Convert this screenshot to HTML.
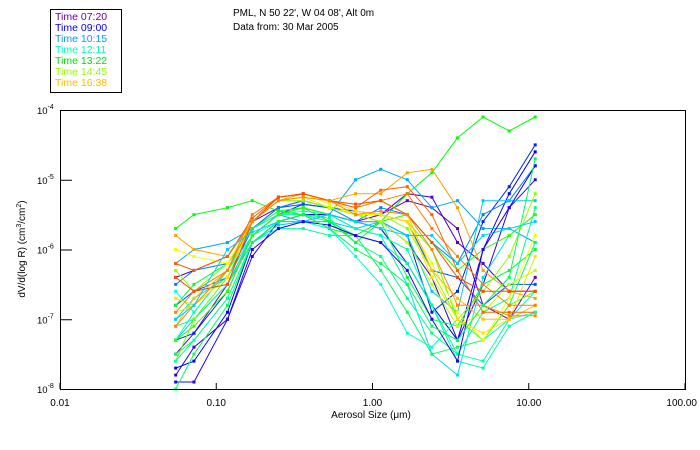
<!DOCTYPE html>
<html><head><meta charset="utf-8"><style>
html,body{margin:0;padding:0;background:#fff;}
svg{display:block;font-family:"Liberation Sans",sans-serif;}
</style></head><body>
<svg id="chart" width="700" height="450" viewBox="0 0 700 450">
<g>
<rect x="50.5" y="9.5" width="71" height="83" fill="#fff" stroke="#000" stroke-width="1"/>
<text x="55" y="20" font-size="10.5" fill="#6a00b0">Time 07:20</text>
<text x="55" y="31" font-size="10.5" fill="#0000ff">Time 09:00</text>
<text x="55" y="42" font-size="10.5" fill="#0099ff">Time 10:15</text>
<text x="55" y="53" font-size="10.5" fill="#00ffb0">Time 12:11</text>
<text x="55" y="64" font-size="10.5" fill="#00e000">Time 13:22</text>
<text x="55" y="75" font-size="10.5" fill="#90ff00">Time 14:45</text>
<text x="55" y="86" font-size="10.5" fill="#ffbb00">Time 16:38</text>
</g>
<text x="233" y="16" font-size="10" fill="#000">PML, N 50 22', W 04 08', Alt 0m</text>
<text x="233" y="30" font-size="10" fill="#000">Data from: 30 Mar 2005</text>
<g id="series"></g>
<g id="axes"></g>
</svg>
<script>
const sizes = [0.055,0.072,0.118,0.17,0.25,0.36,0.53,0.78,1.13,1.67,2.4,3.5,5.1,7.5,11.0];
const colors = ["#6a00b0","#5000c8","#3000e0","#0000ff","#0020ff","#0050ff","#0080ff","#00a8ff","#00c8ff","#00e0f0","#00ffd8","#00ffb0","#00ff90","#00ff60","#00ff30","#00ff00","#30ff00","#60ff00","#90ff00","#c0ff00","#f0ff00","#ffe000","#ffc000","#ffa000","#ff8000","#ff6000","#ff4800","#ff8800","#00d0ff","#00ffa0","#2000ff","#00ff50"];
const logDV = [
[-7.5,-7.2,-6.5,-5.8,-5.5,-5.4,-5.5,-5.6,-5.5,-5.3,-5.4,-5.7,-6.8,-7.0,-6.4],
[-6.4,-6.3,-6.1,-5.6,-5.4,-5.3,-5.4,-5.5,-5.5,-5.2,-5.25,-5.9,-6.2,-6.6,-6.6],
[-7.8,-7.4,-7.0,-6.1,-5.6,-5.5,-5.5,-5.6,-5.6,-5.9,-6.4,-7.3,-6.5,-5.4,-5.0],
[-7.7,-7.6,-6.9,-5.9,-5.6,-5.5,-5.5,-5.6,-5.7,-6.2,-6.8,-7.3,-6.0,-5.2,-4.6],
[-7.3,-7.2,-6.6,-5.8,-5.5,-5.35,-5.4,-5.5,-5.6,-5.8,-6.9,-6.6,-5.6,-5.1,-4.5],
[-6.8,-6.6,-6.4,-5.7,-5.4,-5.35,-5.4,-5.45,-5.5,-5.6,-6.3,-6.4,-6.8,-6.5,-6.5],
[-6.5,-6.3,-6.2,-5.7,-5.4,-5.3,-5.4,-5.6,-5.4,-5.5,-5.9,-6.2,-5.5,-5.3,-4.8],
[-6.2,-6.0,-5.9,-5.7,-5.5,-5.6,-5.5,-5.0,-4.85,-5.0,-5.4,-5.3,-5.7,-5.7,-5.9],
[-7.3,-7.0,-6.5,-5.9,-5.65,-5.6,-5.6,-5.7,-5.6,-5.8,-6.6,-6.9,-5.3,-5.3,-5.3],
[-7.0,-6.7,-6.4,-5.8,-5.5,-5.4,-5.5,-5.7,-5.8,-6.5,-7.5,-7.8,-6.4,-5.8,-5.5],
[-6.6,-6.9,-6.3,-5.8,-5.6,-5.6,-5.7,-6.1,-6.5,-7.2,-7.4,-7.0,-7.3,-7.0,-6.9],
[-7.3,-6.9,-6.3,-5.7,-5.5,-5.45,-5.5,-5.7,-5.8,-6.0,-6.8,-7.5,-7.6,-7.0,-6.6],
[-7.1,-7.0,-6.5,-5.8,-5.5,-5.5,-5.55,-5.9,-6.1,-6.7,-7.2,-7.5,-6.9,-6.7,-5.4],
[-7.5,-7.3,-6.7,-5.9,-5.6,-5.5,-5.6,-5.8,-6.3,-6.9,-7.5,-7.4,-7.3,-6.8,-5.9],
[-6.8,-6.5,-6.2,-5.7,-5.45,-5.4,-5.6,-5.9,-5.6,-6.4,-7.0,-7.1,-6.5,-6.3,-6.0],
[-5.7,-5.5,-5.4,-5.3,-5.45,-5.5,-5.7,-5.8,-5.6,-5.2,-4.9,-4.4,-4.1,-4.3,-4.1],
[-7.3,-7.1,-6.6,-5.8,-5.5,-5.4,-5.5,-5.6,-5.6,-5.5,-5.9,-6.3,-6.0,-5.8,-5.5],
[-7.6,-7.0,-6.4,-5.6,-5.3,-5.3,-5.4,-5.5,-5.5,-5.6,-6.0,-7.0,-7.3,-6.8,-6.6],
[-6.3,-6.6,-6.2,-5.6,-5.3,-5.3,-5.4,-5.5,-5.5,-5.7,-6.3,-7.0,-6.6,-6.1,-5.2],
[-6.9,-6.8,-6.3,-5.6,-5.3,-5.25,-5.4,-5.5,-5.6,-5.9,-6.5,-7.1,-6.9,-6.5,-6.3],
[-6.0,-6.1,-6.2,-5.6,-5.3,-5.2,-5.35,-5.5,-5.5,-5.6,-6.2,-6.9,-7.3,-6.7,-5.8],
[-6.7,-6.8,-6.4,-5.6,-5.3,-5.25,-5.3,-5.45,-5.5,-5.6,-6.4,-7.0,-7.2,-7.0,-6.1],
[-7.1,-6.7,-6.3,-5.6,-5.25,-5.2,-5.3,-5.4,-5.3,-5.5,-6.3,-6.7,-7.0,-7.0,-6.8],
[-5.8,-6.0,-6.1,-5.6,-5.3,-5.2,-5.3,-5.2,-5.2,-4.9,-4.85,-5.4,-6.3,-6.6,-6.7],
[-6.9,-6.6,-6.3,-5.5,-5.25,-5.2,-5.3,-5.4,-5.3,-5.2,-5.7,-6.1,-6.5,-6.8,-6.8],
[-6.2,-6.3,-6.1,-5.55,-5.25,-5.2,-5.3,-5.4,-5.15,-5.1,-5.5,-6.3,-6.9,-6.9,-6.9],
[-6.4,-6.6,-6.5,-5.6,-5.25,-5.2,-5.3,-5.35,-5.3,-5.5,-5.9,-6.4,-6.6,-6.6,-6.6],
[-7.1,-6.8,-6.3,-5.6,-5.3,-5.25,-5.3,-5.5,-5.45,-5.5,-6.0,-6.8,-6.8,-6.95,-6.95],
[-7.0,-6.8,-6.0,-5.75,-5.6,-5.6,-5.5,-5.6,-5.7,-5.8,-5.8,-6.2,-5.8,-5.7,-5.6],
[-7.6,-7.3,-6.7,-5.9,-5.7,-5.7,-5.8,-5.8,-5.9,-6.2,-6.8,-7.6,-7.7,-7.1,-6.9],
[-7.9,-7.9,-7.0,-6.0,-5.7,-5.6,-5.65,-5.8,-5.9,-6.3,-7.0,-7.6,-6.0,-5.4,-4.8],
[-8.0,-7.5,-6.8,-5.9,-5.6,-5.5,-5.7,-6.0,-6.2,-6.5,-7.1,-7.3,-6.8,-6.4,-4.7]
];
const xTickVals = [0.01,0.1,1,10,100];
const xTickLabels = ["0.01","0.10","1.00","10.00","100.00"];
const yTickExps = [-4,-5,-6,-7,-8];

const X0=60,X1=685,Y0=110,Y1=389;
function xs(v){return X0+(Math.log10(v)+2)/4*(X1-X0);}
function ys(lv){return Y0+(-4-lv)/4*(Y1-Y0);}
const NS="http://www.w3.org/2000/svg";
function mk(t,a){const e=document.createElementNS(NS,t);for(const k in a)e.setAttribute(k,a[k]);return e;}
const sg=document.getElementById('series');
logDV.forEach((row,i)=>{
  const g=mk('g',{});
  
  
  const pts=row.map((v,j)=>xs(sizes[j]).toFixed(1)+','+ys(Math.max(-8,Math.min(-4,v))).toFixed(1)).join(' ');
  const pl=mk('polyline',{points:pts,fill:'none',stroke:colors[i],'stroke-width':1});
  
  
  g.appendChild(pl);
  row.forEach((v,j)=>{
    const r=mk('rect',{x:xs(sizes[j])-1.5,y:ys(Math.max(-8,Math.min(-4,v)))-1.5,width:3,height:3,fill:colors[i]});
    
    
    g.appendChild(r);
  });
  sg.appendChild(g);
});
const ax=document.getElementById('axes');
const frame=mk('rect',{x:X0+0.5,y:Y0+0.5,width:X1-X0,height:Y1-Y0,fill:'none',stroke:'#000','stroke-width':1});


ax.appendChild(frame);
xTickVals.forEach((v,i)=>{
  const x=xs(v);
  const t=mk('line',{x1:x,x2:x,y1:Y1,y2:Y1-6,stroke:'#000'});
  
  
  ax.appendChild(t);
  const last=i===xTickVals.length-1;
  const l=mk('text',{x:last?697:x,y:Y1+17,'font-size':10,'text-anchor':last?'end':'middle'});
  l.textContent=xTickLabels[i];
  
  
  ax.appendChild(l);
});
yTickExps.forEach(e=>{
  const y=ys(e);
  const t=mk('line',{x1:X0,x2:X0+12,y1:y+0.5,y2:y+0.5,stroke:'#000'});
  
  
  ax.appendChild(t);
  const l=mk('text',{x:37,y:y+4,'font-size':9.5});
  l.innerHTML='10<tspan dy="-5" font-size="7">'+e+'</tspan>';
  
  
  ax.appendChild(l);
});
const xt=mk('text',{x:371,y:418,'font-size':10,'text-anchor':'middle'});
xt.textContent='Aerosol Size (\u03bcm)';


ax.appendChild(xt);
const yt=mk('text',{x:0,y:0,'font-size':10,'text-anchor':'middle',transform:'translate(25,249) rotate(-90)'});
yt.innerHTML='dV/d(log R) (cm<tspan dy="-4" font-size="7">3</tspan><tspan dy="4">/cm</tspan><tspan dy="-4" font-size="7">2</tspan><tspan dy="4">)</tspan>';


ax.appendChild(yt);
</script>
</body></html>
